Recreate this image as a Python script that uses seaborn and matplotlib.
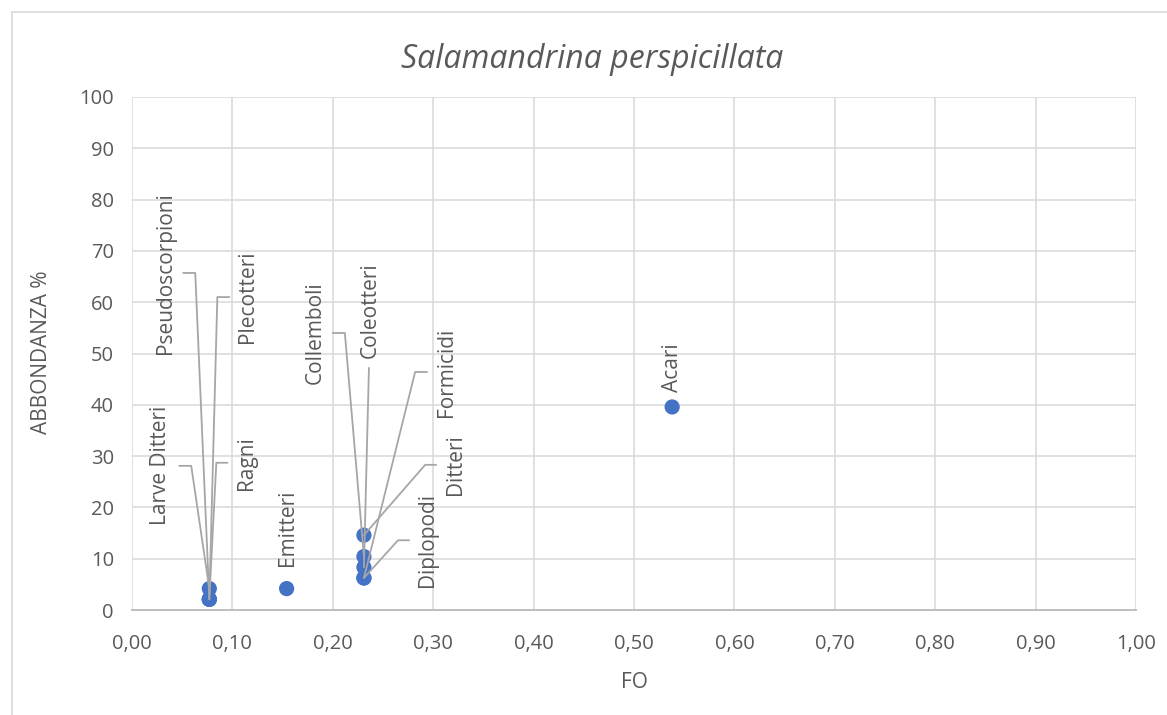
import numpy as np
import pandas as pd
import seaborn as sns
import matplotlib.pyplot as plt
from matplotlib.ticker import FuncFormatter, MultipleLocator
from matplotlib.lines import Line2D

# prey categories, frequency of occurrence (FO) and abundance %
categories = ["Pseudoscorpioni", "Plecotteri", "Larve Ditteri", "Ragni", "Emitteri",
              "Collemboli", "Coleotteri", "Formicidi", "Ditteri", "Diplopodi", "Acari"]
fo = [0.077, 0.077, 0.077, 0.077, 0.154,
      0.231, 0.231, 0.231, 0.231, 0.231, 0.538]
abbondanza = [2.08, 2.08, 4.17, 2.08, 4.17,
              10.42, 8.33, 6.25, 14.58, 6.25, 39.58]

x_ticks = [0.0, 0.1, 0.2, 0.3, 0.4, 0.5, 0.6, 0.7, 0.8, 0.9, 1.0]
y_ticks = [0, 10, 20, 30, 40, 50, 60, 70, 80, 90, 100]

# label placement (data coords) as dragged in the original chart,
# with the start/end x of the short horizontal leader stub (None = no leader)
label_pos = {
    "Pseudoscorpioni": (0.033, 65.7, 0.051, 0.063),
    "Plecotteri": (0.1155, 61.0, 0.097, 0.085),
    "Larve Ditteri": (0.028, 28.1, 0.047, 0.059),
    "Ragni": (0.1145, 28.7, 0.095, 0.084),
    "Emitteri": (0.1544, 16.0, None, None),
    "Collemboli": (0.1823, 54.0, 0.200, 0.212),
    "Coleotteri": (0.2371, 58.5, 0.236, 0.236),
    "Formicidi": (0.3137, 46.4, 0.294, 0.282),
    "Ditteri": (0.3227, 28.3, 0.303, 0.292),
    "Diplopodi": (0.2948, 13.6, 0.276, 0.265),
    "Acari": (0.5388, 47.2, None, None),
}

df = pd.DataFrame({"categoria": categories, "FO": fo, "ABBONDANZA": abbondanza})

sns.set_theme(style="white")
plt.rcParams['font.family'] = ['Open Sans', 'DejaVu Sans']

W, H = 1167, 715
fig = plt.figure(figsize=(W / 100, H / 100), dpi=100)
ax = fig.add_axes([132 / W, 1 - 610 / H, (1136 - 132) / W, (610 - 97) / H])

grey_txt = "#595959"
grid_c = "#d9d9d9"

sns.scatterplot(data=df, x="FO", y="ABBONDANZA", ax=ax, color="#4472C4",
                s=120, edgecolor="none", zorder=3, legend=False)

ax.set_xlim(0, 1)
ax.set_ylim(0, 100)
ax.set_xticks(x_ticks)
ax.set_yticks(y_ticks)
ax.xaxis.set_major_formatter(FuncFormatter(lambda v, p: f"{v:.2f}".replace(".", ",")))
ax.grid(True, color=grid_c, linewidth=1.1)
ax.set_axisbelow(True)
for side in ["top", "right", "left"]:
    ax.spines[side].set_visible(False)
ax.spines["bottom"].set_color("#bfbfbf")
ax.spines["bottom"].set_linewidth(1.4)
ax.tick_params(axis="both", length=0, labelsize=14.5, labelcolor=grey_txt)
ax.tick_params(axis="x", pad=17)
ax.tick_params(axis="y", pad=13)
ax.set_xlabel("")
ax.set_ylabel("")

# data labels with leader lines
leader_c = "#a6a6a6"
for cat, x, y in zip(categories, fo, abbondanza):
    lx, ly, s0, s1 = label_pos[cat]
    ax.text(lx, ly, cat, rotation=90, ha="center", va="center",
            fontsize=15, color=grey_txt, zorder=5)
    if s0 is not None:
        if cat == "Coleotteri":
            ax.plot([s0, x], [47.2, y], color=leader_c, lw=1.3, zorder=4)
        else:
            ax.plot([s0, s1, x], [ly, ly, y], color=leader_c, lw=1.3, zorder=4)

fig.text(592 / W, 1 - 60 / H, "Salamandrina perspicillata", ha="center", va="center",
         fontsize=23, style="italic", color=grey_txt)
fig.text(634 / W, 1 - 683 / H, "FO", ha="center", va="center",
         fontsize=15, color=grey_txt)
fig.text(42 / W, 1 - 352 / H, "ABBONDANZA %", ha="center", va="center",
         rotation=90, fontsize=15, color=grey_txt)

# chart area border (cut by the image edges on right and bottom)
fig.add_artist(Line2D([12 / W, 1], [1 - 12 / H, 1 - 12 / H], color=grid_c, lw=1.2,
                      transform=fig.transFigure))
fig.add_artist(Line2D([12 / W, 12 / W], [1 - 12 / H, 0], color=grid_c, lw=1.2,
                      transform=fig.transFigure))

fig.savefig("out.png", dpi=100)
